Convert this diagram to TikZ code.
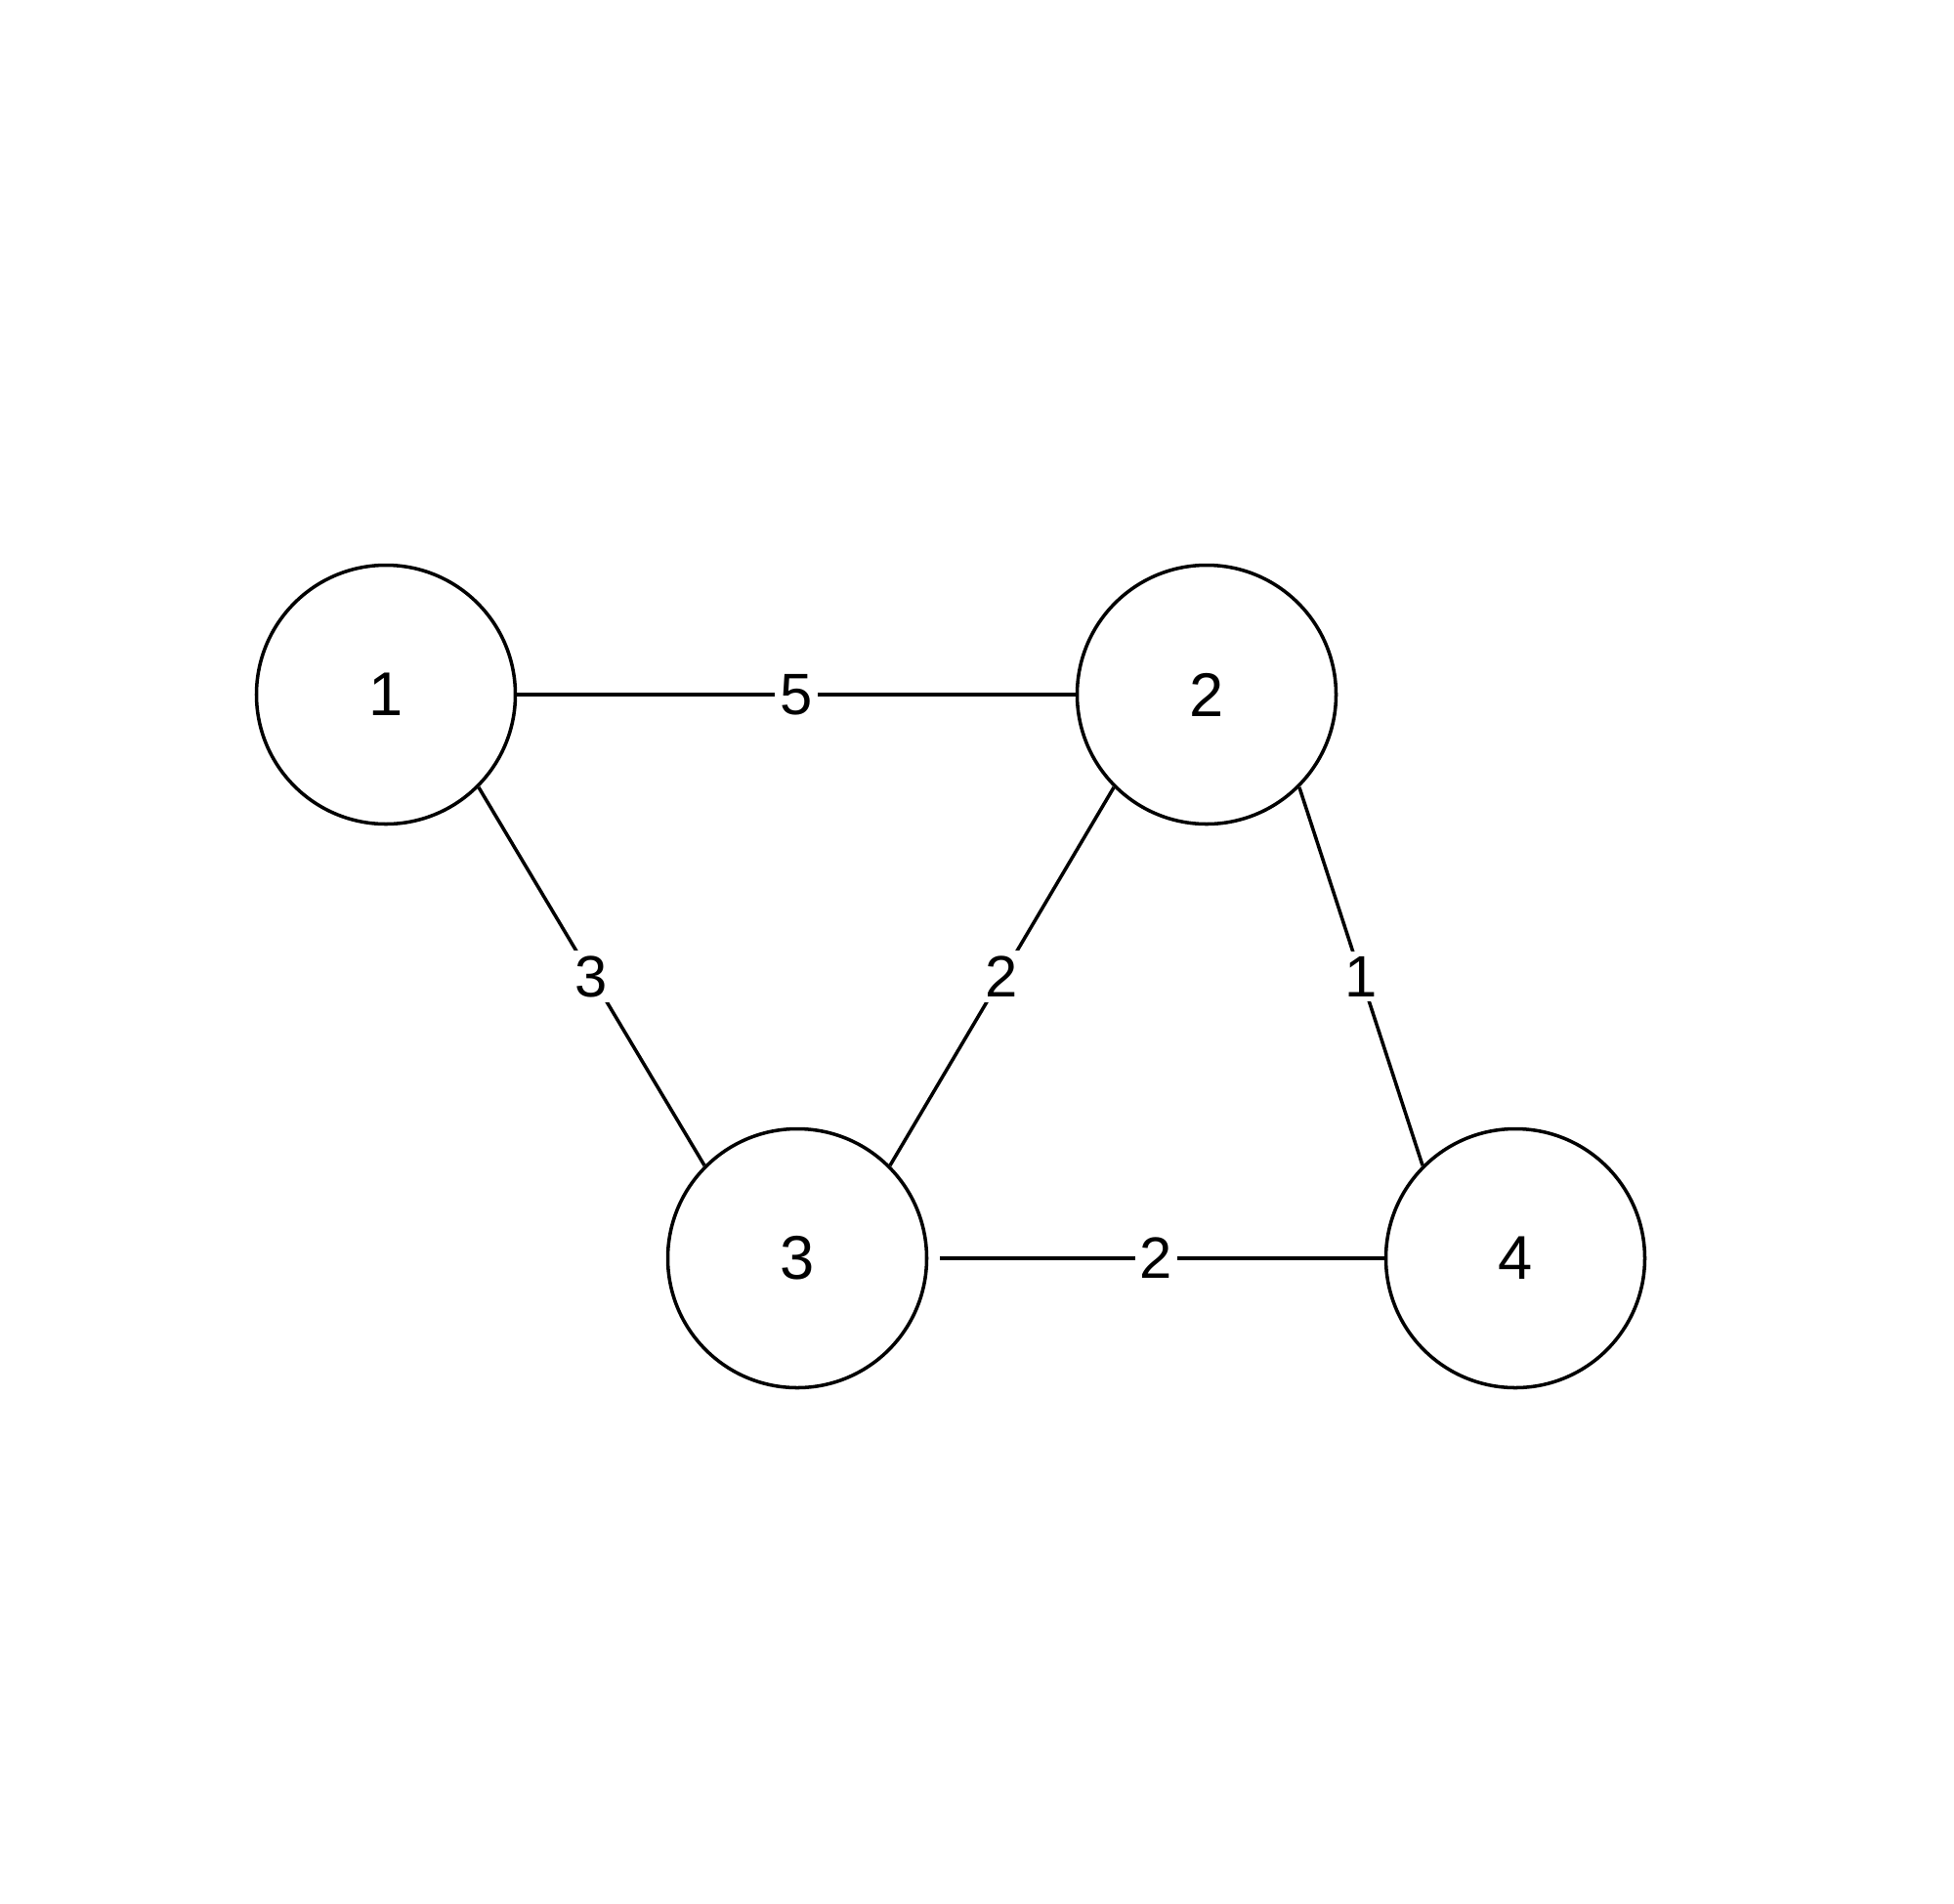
\documentclass[tikz,border=0pt]{standalone}
\usepackage{fontspec}
\setmainfont{Liberation Sans}
\usepackage{tikz}

\begin{document}
\begin{tikzpicture}[line width=1pt,vertex/.style={draw,circle,minimum size=2.65cm,inner sep=0pt,font=\fontsize{18}{20}\selectfont},weight/.style={fill=white,inner sep=1.5pt,font=\fontsize{17}{19}\selectfont}]
\useasboundingbox (0,0) rectangle (20,-19.48);
\node[vertex] (v1) at (3.95,-7.11){1};
\node[vertex] (v2) at (12.35,-7.11){2};
\node[vertex] (v3) at (8.16,-12.88){3};
\node[vertex] (v4) at (15.51,-12.88){4};
\draw (v1) -- node[weight]{5} (v2);
\draw (v1.south east) -- node[weight]{3} (v3.north west);
\draw (v2.south west) -- node[weight]{2} (v3.north east);
\draw (v2.south east) -- node[weight]{1} (v4.north west);
\draw[shorten <=0.12cm] (v3) -- node[weight]{2} (v4);
\end{tikzpicture}
\end{document}
